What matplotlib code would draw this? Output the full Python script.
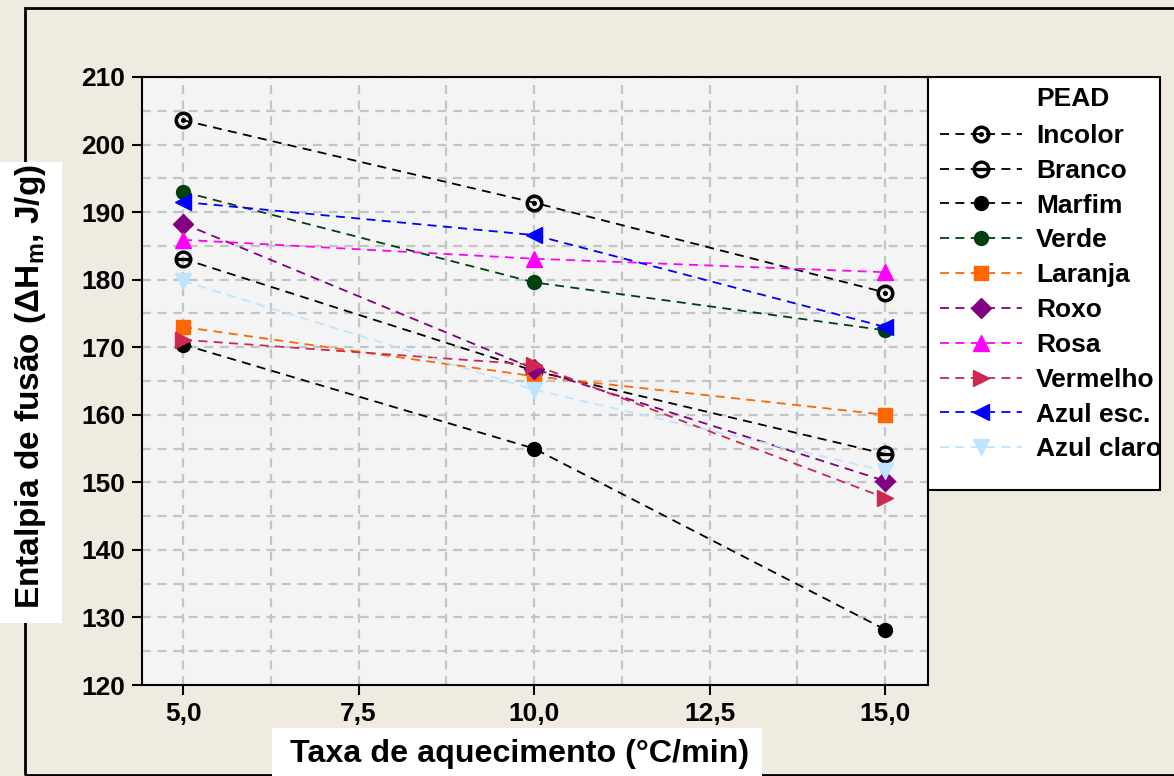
import matplotlib
matplotlib.use("Agg")
import matplotlib.pyplot as plt
from matplotlib.patches import Rectangle
from matplotlib.ticker import FuncFormatter, MultipleLocator

plt.rcParams['font.family'] = ['Liberation Sans', 'DejaVu Sans']
plt.rcParams['font.weight'] = 'bold'
plt.rcParams['mathtext.fontset'] = 'custom'
plt.rcParams['mathtext.rm'] = 'Liberation Sans'
plt.rcParams['mathtext.default'] = 'regular'

# ---- data ----
rates = [5.0, 10.0, 15.0]
names = ["Incolor", "Branco", "Marfim", "Verde", "Laranja", "Roxo",
         "Rosa", "Vermelho", "Azul esc.", "Azul claro"]
incolor = [203.6, 191.4, 178.1]
branco = [183.1, 166.5, 154.2]
marfim = [170.4, 155.0, 128.2]
verde = [193.0, 179.6, 172.5]
laranja = [173.0, 165.7, 160.0]
roxo = [188.3, 166.8, 150.2]
rosa = [185.9, 183.1, 181.1]
vermelho = [171.1, 167.4, 147.7]
azul_esc = [191.5, 186.6, 173.0]
azul_claro = [179.8, 163.7, 151.7]
series = [incolor, branco, marfim, verde, laranja, roxo, rosa, vermelho,
          azul_esc, azul_claro]

colors = ["#000000", "#000000", "#000000", "#004010", "#FF6600", "#800080",
          "#FF00FF", "#CC2850", "#0000FF", "#BFE4FF"]
markers = [r"$\odot$", r"$\ominus$", "o", "o", "s", "D", "^", ">", "<", "v"]
msizes = [12, 12, 10, 10, 10, 10, 12, 12, 12, 12]

W, H = 1174, 776
fig = plt.figure(figsize=(W / 100, H / 100), dpi=100)
fig.patch.set_facecolor("#EFEBE1")

# outer border
fig.patches.append(Rectangle((25 / W, 1 - 775 / H), 1.2, (775 - 8) / H,
                             transform=fig.transFigure, fill=False,
                             edgecolor="black", linewidth=2, zorder=0))

ax = fig.add_axes([142 / W, 1 - 685 / H, (928 - 142) / W, (685 - 77) / H])
ax.set_facecolor("#F4F4F4")
ax.set_xlim(4.415, 15.61)
ax.set_ylim(120, 210)

# grid
ax.xaxis.set_minor_locator(MultipleLocator(1.25))
ax.yaxis.set_minor_locator(MultipleLocator(5))
ax.xaxis.set_major_locator(MultipleLocator(2.5))
ax.yaxis.set_major_locator(MultipleLocator(10))
ax.grid(which="both", color="#C4C4C4", linestyle=(0, (4, 3)), linewidth=1.6)
ax.set_axisbelow(True)
ax.tick_params(which="minor", length=0)
ax.tick_params(which="major", length=7, width=1.5, direction="out",
               labelsize=19, pad=5)
ax.xaxis.set_major_formatter(FuncFormatter(lambda v, p: f"{v:.1f}".replace(".", ",")))
ax.yaxis.set_major_formatter(FuncFormatter(lambda v, p: f"{v:.0f}"))
for lab in ax.get_xticklabels() + ax.get_yticklabels():
    lab.set_fontweight("bold")
for s in ax.spines.values():
    s.set_linewidth(1.5)

handles = []
for name, vals, c, m, ms in zip(names, series, colors, markers, msizes):
    ln, = ax.plot(rates, vals, linestyle=(0, (5, 3.5)), linewidth=1.3,
                  color=c, marker=m, markersize=ms, markeredgecolor=c,
                  markerfacecolor=c, label=name, clip_on=False)
    handles.append(ln)

# legend box
fig.patches.append(Rectangle((928 / W, 1 - 490 / H), (1160 - 928) / W, (490 - 77) / H,
                             transform=fig.transFigure, facecolor="white",
                             edgecolor="black", linewidth=1.5, zorder=1))
leg = fig.legend(handles=handles, loc="upper left",
                 bbox_to_anchor=(940 / W, 1 - 124 / H), frameon=False,
                 fontsize=19, handlelength=3.1, handletextpad=0.53,
                 labelspacing=0.41, borderpad=0, borderaxespad=0)
leg.set_zorder(2)
for t in leg.get_texts():
    t.set_fontweight("bold")
fig.text(1036 / W, 1 - 99 / H, "PEAD", fontsize=19, fontweight="bold",
         va="center", ha="left", zorder=3)

# axis labels with white boxes
fig.patches.append(Rectangle((0, 1 - 623 / H), 62 / W, (623 - 162) / H,
                             transform=fig.transFigure, facecolor="white",
                             edgecolor="none", zorder=1))
fig.text(31 / W, 1 - 387 / H, "Entalpia de fusão (ΔH$_\\mathregular{m}$, J/g)",
         rotation=90, fontsize=24, fontweight="bold", ha="center", va="center",
         zorder=2)
fig.patches.append(Rectangle((272 / W, 0), (762 - 272) / W, (776 - 728) / H,
                             transform=fig.transFigure, facecolor="white",
                             edgecolor="none", zorder=1))
fig.text(520 / W, 1 - 754 / H, "Taxa de aquecimento (°C/min)",
         fontsize=23.2, fontweight="bold", ha="center", va="center", zorder=2)

fig.savefig("out.png", dpi=100, facecolor=fig.get_facecolor())
